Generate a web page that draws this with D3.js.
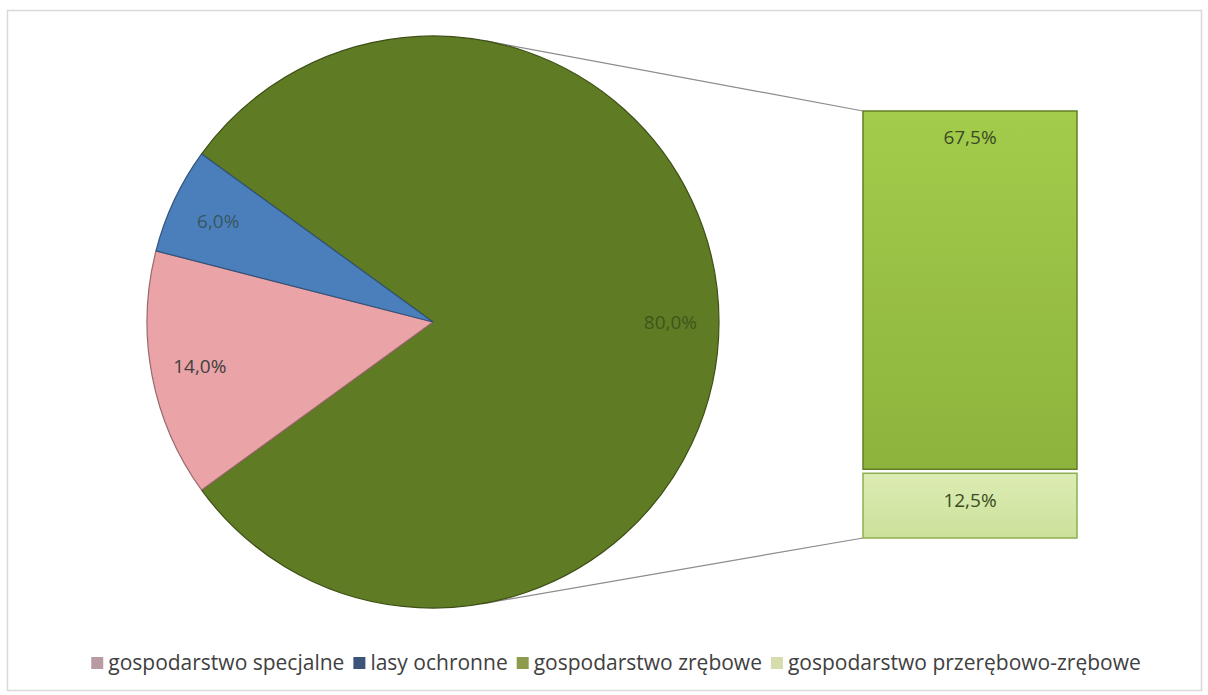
<!DOCTYPE html>
<html>
<head>
<meta charset="utf-8">
<script src="https://cdn.jsdelivr.net/npm/d3@7"></script>
<style>
  body { margin: 0; background: #fff; }
  svg { display: block; font-family: "Open Sans", "Noto Sans", sans-serif; }
</style>
</head>
<body>
<svg id="chart" width="1208" height="695"></svg>
<script>
// pie slices (the first one is the "other" slice split into the bar)
let pieNames = ["gospodarstwo zrębowe", "gospodarstwo specjalne", "lasy ochronne"];
let pieValues = [80.0, 14.0, 6.0];
let pieColors = ["#5f7b23", "#eaa3a6", "#4b7fbc"];
let pieLabels = ["80,0%", "14,0%", "6,0%"];

// bar segments (bottom to top)
let barNames = ["gospodarstwo przerębowo-zrębowe", "gospodarstwo zrębowe"];
let barValues = [12.5, 67.5];
let barLabels = ["12,5%", "67,5%"];
let barTop = ["#dcecb4", "#a3cc4b"];
let barBottom = ["#cbe19a", "#8db33d"];

let legendNames = ["gospodarstwo specjalne", "lasy ochronne", "gospodarstwo zrębowe", "gospodarstwo przerębowo-zrębowe"];
let legendColors = ["#b89aa2", "#3b5478", "#8c9c4c", "#d6dcae"];

let svg = d3.select("#chart");
let cx = 433, cy = 322, r = 286;
let barX = 863, barW = 214;

// frame
svg.append("rect")
  .attr("x", 7.5).attr("y", 10.5)
  .attr("width", 1194).attr("height", 680)
  .attr("fill", "#fff")
  .attr("stroke", "#d9d9d9")
  .attr("stroke-width", 1.5);

let defs = svg.append("defs");
barValues.forEach((v, i) => {
  let g = defs.append("linearGradient")
    .attr("id", "barGrad" + i)
    .attr("x1", 0).attr("y1", 0).attr("x2", 0).attr("y2", 1);
  g.append("stop").attr("offset", "0%").attr("stop-color", barTop[i]);
  g.append("stop").attr("offset", "100%").attr("stop-color", barBottom[i]);
});

// bar scale
let total = d3.sum(barValues);
let y = d3.scaleLinear().domain([0, total]).range([538, 111]);
let stacked = [];
let acc = 0;
barValues.forEach((v, i) => {
  stacked.push({ i: i, y0: acc, y1: acc + v });
  acc += v;
});

// connector lines: tangents from bar corners to the pie circle
function tangentPoint(px, py, upper) {
  let dx = px - cx, dy = py - cy;
  let d = Math.sqrt(dx * dx + dy * dy);
  let phi = Math.atan2(dy, dx);
  let a = Math.acos(r / d);
  let t = upper ? phi - a : phi + a;
  return [cx + r * Math.cos(t), cy + r * Math.sin(t)];
}
let topCorner = [barX, y(total)];
let botCorner = [barX, y(0)];
[[topCorner, true], [botCorner, false]].forEach(([c, up]) => {
  let t = tangentPoint(c[0], c[1], up);
  svg.append("line")
    .attr("x1", t[0]).attr("y1", t[1])
    .attr("x2", c[0]).attr("y2", c[1])
    .attr("stroke", "#8c8c8c")
    .attr("stroke-width", 1.2);
});

// pie
let otherSpan = pieValues[0] / 100 * 2 * Math.PI;
let start = Math.PI / 2 - otherSpan / 2;
let pie = d3.pie().sort(null).startAngle(start).endAngle(start + 2 * Math.PI);
let arcs = pie(pieValues);
let arc = d3.arc().innerRadius(0).outerRadius(r);
let labelArc = d3.arc().innerRadius(r * 0.83).outerRadius(r * 0.83);

let pg = svg.append("g").attr("transform", `translate(${cx},${cy})`);
pg.selectAll("path")
  .data(arcs)
  .enter()
  .append("path")
  .attr("d", arc)
  .attr("fill", (d, i) => pieColors[i])
  .attr("stroke", (d, i) => d3.color(pieColors[i]).darker(1.2))
  .attr("stroke-width", 1.2)
  .attr("stroke-linejoin", "round");

pg.selectAll("text")
  .data(arcs)
  .enter()
  .append("text")
  .attr("x", d => labelArc.centroid(d)[0])
  .attr("y", d => labelArc.centroid(d)[1])
  .attr("text-anchor", "middle")
  .attr("dominant-baseline", "central")
  .attr("font-size", 19)
  .attr("fill", (d, i) => i == 1 ? "#404040" : "#2a3a1a")
  .attr("fill-opacity", (d, i) => i == 1 ? 1 : 0.6)
  .text((d, i) => pieLabels[i]);

// bar
let gap = 2;
svg.selectAll(".seg")
  .data(stacked)
  .enter()
  .append("rect")
  .attr("class", "seg")
  .attr("x", barX)
  .attr("y", d => y(d.y1) + (d.i > 0 ? 0 : gap))
  .attr("width", barW)
  .attr("height", d => y(d.y0) - y(d.y1) - gap)
  .attr("fill", d => `url(#barGrad${d.i})`)
  .attr("stroke", d => d.i == 1 ? "#617f24" : "#8fae52")
  .attr("stroke-width", 1.5);

svg.selectAll(".segLabel")
  .data(stacked)
  .enter()
  .append("text")
  .attr("class", "segLabel")
  .attr("x", barX + barW / 2)
  .attr("y", d => d.i == 1 ? y(d.y1) + 33 : y(d.y1) + 36)
  .attr("text-anchor", "middle")
  .attr("font-size", 19)
  .attr("fill", "#3a4a22")
  .text(d => barLabels[d.i]);

// legend
let lg = svg.append("g");
let items = lg.selectAll("g")
  .data(legendNames)
  .enter()
  .append("g");
items.append("rect")
  .attr("y", 657)
  .attr("width", 12)
  .attr("height", 12)
  .attr("fill", (d, i) => legendColors[i]);
items.append("text")
  .attr("x", 17)
  .attr("y", 670)
  .attr("font-size", 21)
  .attr("fill", "#404040")
  .text(d => d);

let widths = [];
items.selectAll("text").each(function () { widths.push(this.getComputedTextLength()); });
let spacing = 9;
let full = d3.sum(widths) + widths.length * 17 + (widths.length - 1) * spacing;
let xPos = 616 - full / 2;
items.each(function (d, i) {
  d3.select(this).attr("transform", `translate(${xPos},0)`);
  xPos += 17 + widths[i] + spacing;
});
</script>
</body>
</html>
